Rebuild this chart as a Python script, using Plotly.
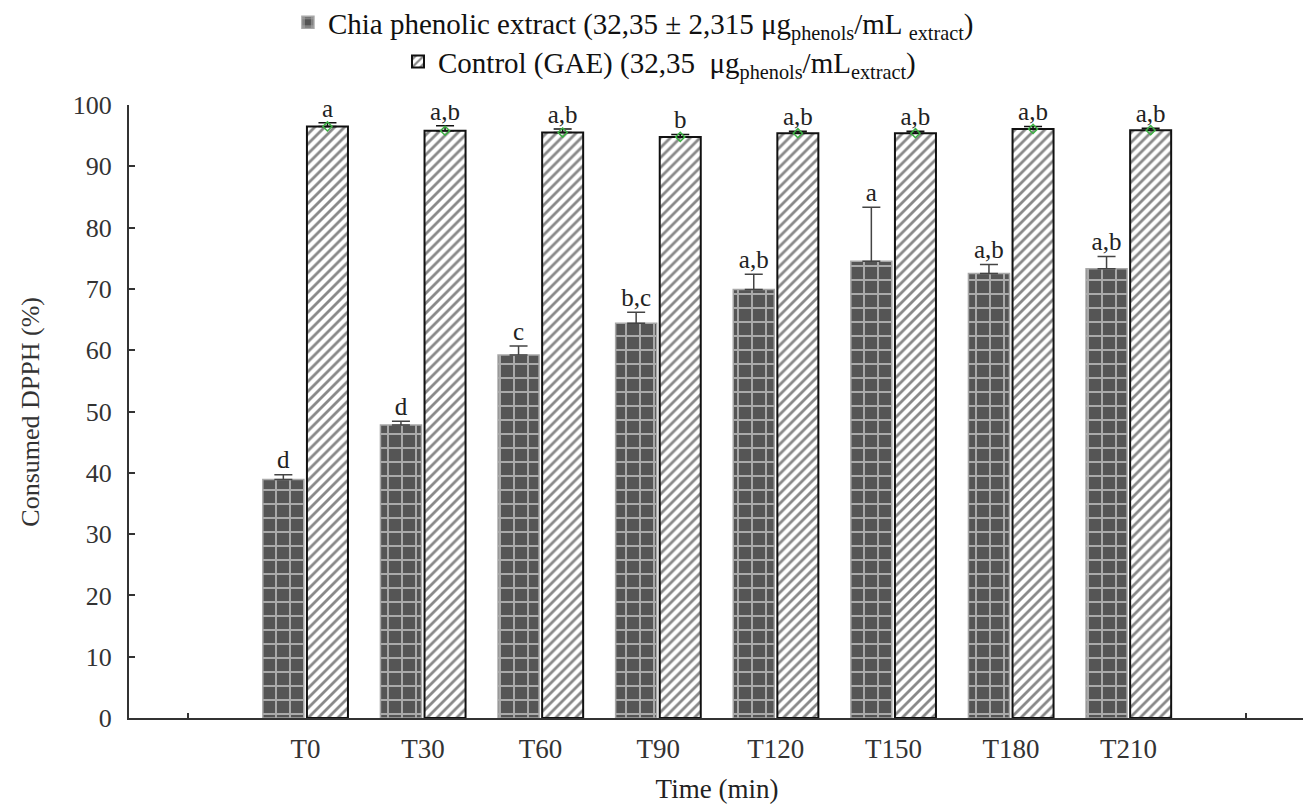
import plotly.graph_objects as go

categories = ["T0", "T30", "T60", "T90", "T120", "T150", "T180", "T210"]
chia_values = [38.9, 47.8, 59.2, 64.4, 69.9, 74.5, 72.5, 73.3]
chia_errors = [0.8, 0.6, 1.5, 1.8, 2.5, 8.8, 1.5, 2.0]
chia_letters = ["d", "d", "c", "b,c", "a,b", "a", "a,b", "a,b"]
control_values = [96.5, 95.8, 95.5, 94.8, 95.4, 95.4, 96.1, 95.9]
control_errors = [0.6, 0.8, 0.6, 0.4, 0.3, 0.3, 0.4, 0.3]
control_letters = ["a", "a,b", "a,b", "b", "a,b", "a,b", "a,b", "a,b"]
y_ticks = [0, 10, 20, 30, 40, 50, 60, 70, 80, 90, 100]

FONT = "Liberation Serif, Times New Roman, serif"
pos = list(range(len(categories)))
half_slot = 0.1875

fig = go.Figure()
fig.add_trace(go.Bar(
    x=pos, y=chia_values, name="Chia phenolic extract (32,35 ± 2,315 μg<sub>phenols</sub>/mL <sub>extract</sub>)",
    error_y=dict(type="data", array=chia_errors, arrayminus=[0]*len(chia_errors), symmetric=False,
                 color="#444", thickness=1.5, width=9),
    marker=dict(color="#555555", line=dict(color="#a8a8a8", width=1.5),
                pattern=dict(shape="+", bgcolor="#555555", fgcolor="white", size=14, solidity=0.26, fillmode="overlay")),
    legend="legend",
))
fig.add_trace(go.Bar(
    x=pos, y=control_values, name="Control (GAE) (32,35  μg<sub>phenols</sub>/mL<sub>extract</sub>)",
    error_y=dict(type="data", array=control_errors, arrayminus=[0]*len(control_errors), symmetric=False,
                 color="#111", thickness=1.5, width=9),
    marker=dict(color="white", line=dict(color="#111", width=2),
                pattern=dict(shape="/", bgcolor="white", fgcolor="#111", size=7, solidity=0.4)),
    legend="legend2",
))
# green markers on top of control bars
fig.add_trace(go.Scatter(
    x=[p + half_slot for p in pos], y=control_values, mode="markers",
    marker=dict(symbol="diamond-open", color="#3cb043", size=7, line=dict(width=1.5, color="#3cb043")),
    showlegend=False, hoverinfo="skip",
))
# letters
fig.add_trace(go.Scatter(
    x=[p - half_slot for p in pos], y=[v + e for v, e in zip(chia_values, chia_errors)],
    mode="text", text=chia_letters, textposition="top center",
    textfont=dict(family=FONT, size=25, color="#222"), showlegend=False, hoverinfo="skip",
))
fig.add_trace(go.Scatter(
    x=[p + half_slot for p in pos], y=[v + e for v, e in zip(control_values, control_errors)],
    mode="text", text=control_letters, textposition="top center",
    textfont=dict(family=FONT, size=25, color="#222"), showlegend=False, hoverinfo="skip",
))

fig.update_layout(
    width=1303, height=801,
    paper_bgcolor="white", plot_bgcolor="white",
    margin=dict(l=121, r=6, t=97, b=91, autoexpand=False),
    barmode="group", bargap=0.25, bargroupgap=0.07,
    font=dict(family=FONT, size=24, color="#333"),
    xaxis=dict(range=[-1.5, 8.5], tickvals=pos, ticktext=categories, ticks="", tickangle=0,
               showline=True, linecolor="#333", linewidth=2, showgrid=False, zeroline=False,
               ticklabelstandoff=6,
               minor=dict(tick0=-1, dtick=9, ticks="inside", ticklen=5, tickwidth=2, tickcolor="#333", showgrid=False),
               tickfont=dict(family=FONT, size=27, color="#333"),
               title=dict(text="Time (min)", font=dict(family=FONT, size=27, color="#222"), standoff=16)),
    yaxis=dict(range=[0, 100], tickvals=y_ticks, ticks="inside", ticklen=6, tickwidth=1.5, tickcolor="#333",
               showline=True, linecolor="#333", linewidth=2, showgrid=False, zeroline=False,
               ticklabelstandoff=10,
               tickfont=dict(family=FONT, size=26, color="#333")),
    annotations=[dict(text="Consumed DPPH (%)", xref="paper", yref="paper", x=-0.084, y=0.5,
                      xanchor="center", yanchor="middle", textangle=-90, showarrow=False,
                      font=dict(family=FONT, size=26, color="#333"))],
    legend=dict(xref="container", yref="container", x=0.48, y=0.982, xanchor="center", yanchor="middle",
                font=dict(family=FONT, size=29, color="#111"), bgcolor="rgba(0,0,0,0)", itemwidth=30),
    legend2=dict(xref="container", yref="container", x=0.5, y=0.933, xanchor="center", yanchor="middle",
                 font=dict(family=FONT, size=29, color="#111"), bgcolor="rgba(0,0,0,0)", itemwidth=30),
)

fig.write_html("out.html")
